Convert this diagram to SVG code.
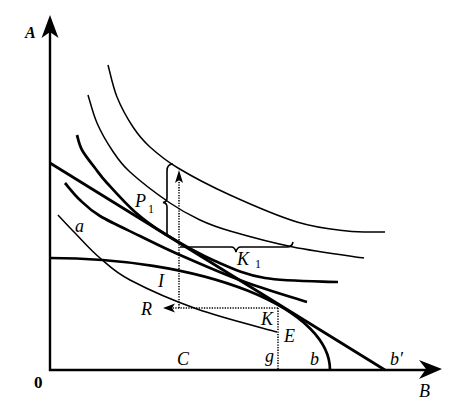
<svg xmlns="http://www.w3.org/2000/svg" width="456" height="407" viewBox="0 0 456 407">
<defs>
<style>
.ax{stroke:#000;stroke-width:2.4;fill:none}
.thin{stroke:#000;stroke-width:1.5;fill:none}
.thick{stroke:#000;stroke-width:2.7;fill:none}
.brace{stroke:#000;stroke-width:1.6;fill:none}
.dot{stroke:#000;stroke-width:1.5;fill:none;stroke-dasharray:1.3 1.3}
.head{fill:#000;stroke:none}
.lbl{font-family:"Liberation Serif","Times New Roman",serif;font-style:italic;font-size:18px;fill:#000}
.sub{font-family:"Liberation Serif","Times New Roman",serif;font-size:12px;fill:#000}
.num{font-family:"Liberation Serif","Times New Roman",serif;font-weight:bold;font-size:17px;fill:#000}
</style>
</defs>
<rect width="456" height="407" fill="#fff"/>

<g id="axes">
<line class="ax" x1="50" y1="371" x2="50" y2="30"/>
<line class="ax" x1="49" y1="370" x2="428" y2="370"/>
<polygon class="head" points="50,15 58.5,38 50,32 41.5,38"/>
<polygon class="head" points="442,369 419,379 426,369 419,360"/>
<text class="lbl" x="25" y="38" style="font-size:16px;font-weight:bold">A</text>
<text class="num" x="34" y="388">0</text>
<text class="lbl" x="419" y="397">B</text>
</g>

<g id="indifference-curves">
<path id="curve1" class="thin" d="M108,65 C109.5,70.3 112.8,86.7 117,97 C121.2,107.3 127.5,118.7 133,127 C138.5,135.3 142.5,140.2 150,147 C157.5,153.8 164.7,160 178,168 C191.3,176 210.2,186 230,195 C249.8,204 277.5,216 297,222 C316.5,228 332.3,229.3 347,231 C361.7,232.7 378.7,231.8 385,232"/>
<path id="curve2" class="thin" d="M88,95 C89.5,99.7 93,113.8 97,123 C101,132.2 106.5,141.8 112,150 C117.5,158.2 120.3,163.2 130,172 C139.7,180.8 158.3,195 170,203 C181.7,211 190,215.3 200,220 C210,224.7 214.5,226.5 230,231 C245.5,235.5 270.7,242.5 293,247 C315.3,251.5 352.2,256.2 364,258"/>
<path id="curve3" class="thick" d="M77,135 C77.8,137.5 79,144.5 82,150 C85,155.5 90.8,162.5 95,168 C99.2,173.5 100.3,175.7 107,183 C113.7,190.3 125.3,203.5 135,212 C144.7,220.5 151.7,225.8 165,234 C178.3,242.2 198.3,253.7 215,261 C231.7,268.3 244.5,274.5 265,278 C285.5,281.5 325.8,281.3 338,282"/>
<path id="curve4" class="thick" d="M65,183 C67.5,185.8 74.2,194.5 80,200 C85.8,205.5 90,210 100,216 C110,222 126.7,229.5 140,236 C153.3,242.5 162.5,247.3 180,255 C197.5,262.7 223.8,274.2 245,282 C266.2,289.8 296.7,298.7 307,302"/>
<path id="curve-a" class="thin" d="M58,215 C60.8,218 68,225.8 75,233 C82,240.2 90.8,250.2 100,258 C109.2,265.8 113.8,271.5 130,280 C146.2,288.5 172.5,300.3 197,309 C221.5,317.7 263.7,328.2 277,332"/>
</g>

<g id="frontier">
<path id="ppf" class="thick" d="M50,258 A280,112 0 0 1 330,370"/>
<line id="price-line" class="thick" x1="50" y1="163" x2="385" y2="370"/>
</g>

<g id="connectors">
<path class="brace" d="M173,164 Q167,164 167,171 L167,198 Q167,202 163,202.5 Q167,203 167,207 L167,236"/>
<path class="brace" d="M180,247 L231,247 Q235,247 236,252 Q237,247 241,247 L287,247 Q292,247 293,242"/>
<line class="dot" x1="179" y1="308" x2="179" y2="180"/>
<polygon class="head" points="179,170 183,183 179,180 175,183"/>
<line class="dot" x1="278" y1="308" x2="172" y2="308"/>
<polygon class="head" points="163,308 175,303.5 172,308 175,312.5"/>
<line class="dot" x1="278" y1="308" x2="278" y2="370"/>
</g>

<g id="labels">
<text class="lbl" x="135" y="207">P</text><text class="sub" x="148" y="213">1</text>
<text class="lbl" x="75" y="232">a</text>
<text class="lbl" x="237" y="265">K</text><text class="sub" x="255" y="268">1</text>
<text class="lbl" x="158" y="287">I</text>
<text class="lbl" x="141" y="315">R</text>
<text class="lbl" x="261" y="325">K</text>
<text class="lbl" x="284" y="342">E</text>
<text class="lbl" x="177" y="365">C</text>
<text class="lbl" x="265" y="362">g</text>
<text class="lbl" x="310" y="365">b</text>
<text class="lbl" x="390" y="365">b′</text>
</g>
</svg>
